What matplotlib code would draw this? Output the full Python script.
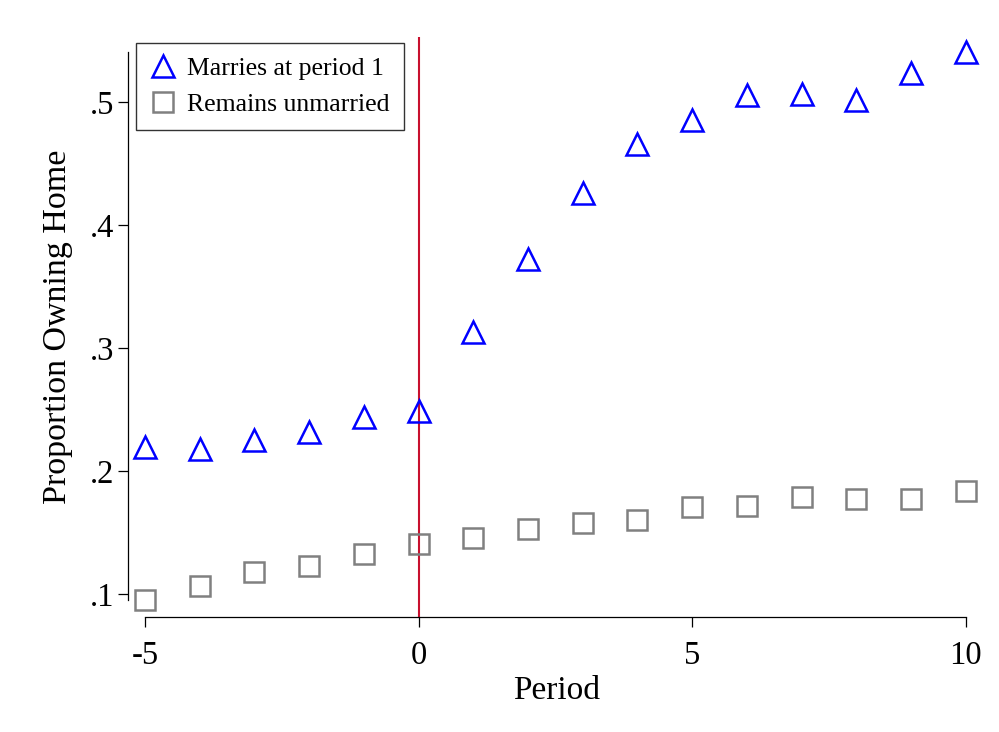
import numpy as np
import matplotlib
matplotlib.use("Agg")
import matplotlib.pyplot as plt

# Proportion owning a home by period relative to marriage
period = np.arange(-5, 11)
married = [0.220, 0.218, 0.225, 0.232, 0.244, 0.249, 0.313, 0.373,
           0.426, 0.466, 0.486, 0.506, 0.507, 0.502, 0.524, 0.541]
unmarried = [0.095, 0.1065, 0.118, 0.123, 0.133, 0.141, 0.146, 0.153,
             0.158, 0.160, 0.171, 0.172, 0.179, 0.177, 0.177, 0.184]

xticks = [-5, 0, 5, 10]
yticks = [0.1, 0.2, 0.3, 0.4, 0.5]
ytick_labels = ['.1', '.2', '.3', '.4', '.5']

plt.rcParams['font.family'] = ['Liberation Serif', 'DejaVu Serif']

fig = plt.figure(figsize=(9.99, 7.32), dpi=100)
ax = fig.add_axes([0.128, 0.157, 0.858, 0.792])

ax.axvline(0, color='#c8102e', linewidth=1.5, zorder=1)

ax.plot(period, married, linestyle='none', marker='^', markersize=16,
        markerfacecolor='none', markeredgecolor='#0000ff', markeredgewidth=1.8,
        label='Marries at period 1', zorder=3)
ax.plot(period, unmarried, linestyle='none', marker='s', markersize=14.5,
        markerfacecolor='none', markeredgecolor='#808080', markeredgewidth=1.8,
        label='Remains unmarried', zorder=3)

ax.set_xlim(-5.31, 10.35)
ax.set_ylim(0.0813, 0.553)

ax.set_xticks(xticks)
ax.set_xticklabels([str(t) for t in xticks])
ax.set_yticks(yticks)
ax.set_yticklabels(ytick_labels)
ax.tick_params(axis='both', direction='out', length=7, width=0.9,
               labelsize=23.5, color='black')
ax.tick_params(axis='x', pad=10)
ax.tick_params(axis='y', pad=3)

for side in ['top', 'right']:
    ax.spines[side].set_visible(False)
ax.spines['left'].set_bounds(min(unmarried), max(married))
ax.spines['bottom'].set_bounds(period[0], period[-1])
ax.spines['left'].set_linewidth(0.9)
ax.spines['bottom'].set_linewidth(0.9)

ax.set_xlabel('Period', fontsize=24, labelpad=3)
ax.set_ylabel('Proportion Owning Home', fontsize=24.5, labelpad=12)

leg = ax.legend(loc='upper left', bbox_to_anchor=(0.0093, 0.9897),
                bbox_transform=ax.transAxes, fontsize=18.5, frameon=True,
                fancybox=False, edgecolor='black', handlelength=1.0,
                handletextpad=0.45, borderpad=0.55, labelspacing=0.5,
                borderaxespad=0.0)
leg.get_frame().set_linewidth(1.0)

fig.savefig('out.png', dpi=100, facecolor='white')
